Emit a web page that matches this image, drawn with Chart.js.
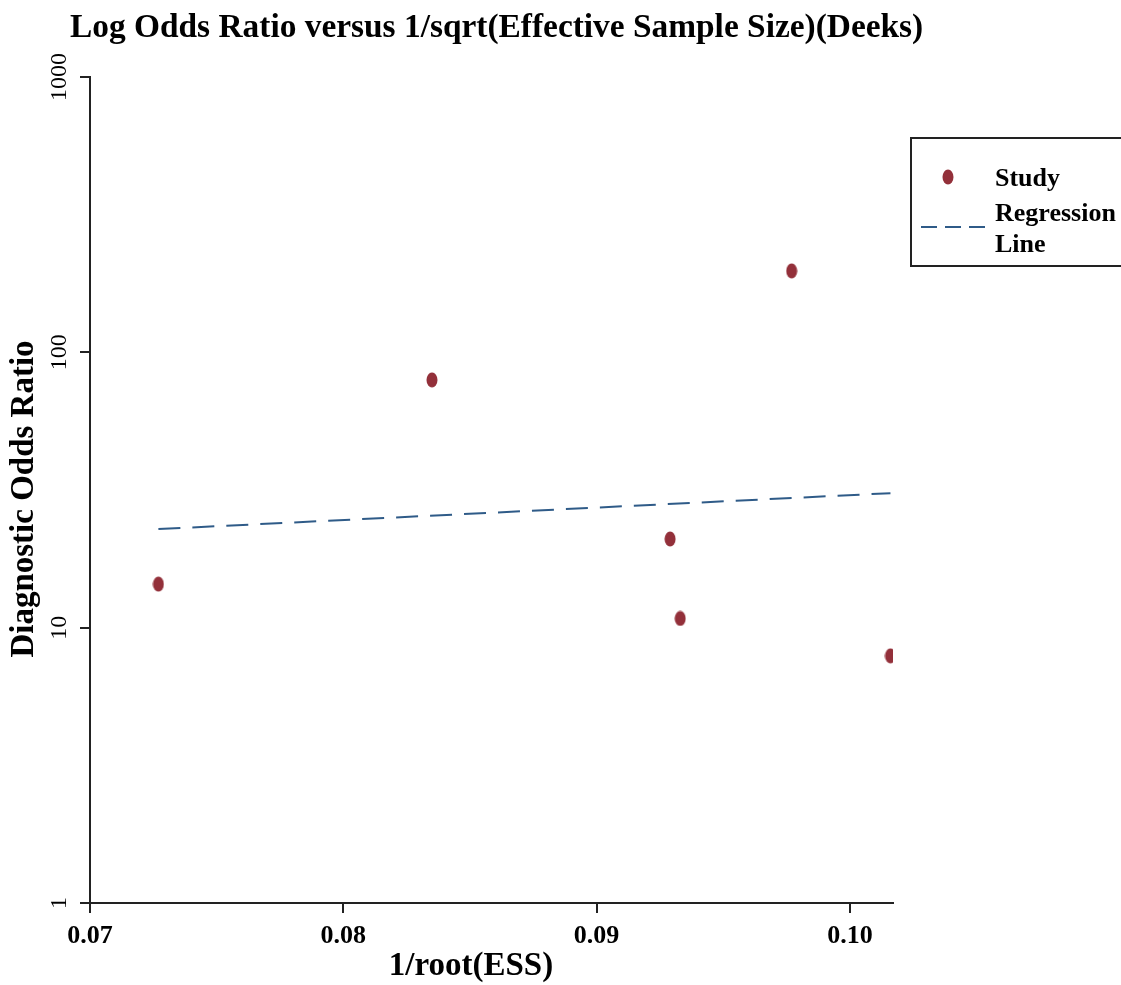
<!DOCTYPE html>
<html>
<head>
<meta charset="utf-8">
<script src="https://cdn.jsdelivr.net/npm/chart.js@4.4.0/dist/chart.umd.min.js"></script>
<style>
  html, body { margin: 0; padding: 0; background: #fff; }
  #wrap { width: 1121px; height: 985px; }
</style>
</head>
<body>
<div id="wrap"><canvas id="myChart" width="1121" height="985"></canvas></div>
<script>
// study points (1/sqrt(ESS), diagnostic odds ratio)
var studyX = [0.0727, 0.0835, 0.0929, 0.0933, 0.0977, 0.1016];
var studyY = [14.4, 79.4, 21.0, 10.8, 197.6, 7.9];
// regression line end points
var regX = [0.0727, 0.1016];
var regY = [22.8, 30.8];
// ticks
var xTicks = [0.07, 0.08, 0.09, 0.10];
var yTicks = [1, 10, 100, 1000];

var serif = '"Liberation Serif", "Times New Roman", serif';
var pointColor = '#93303a';
var lineColor = '#2f5b88';

function toPoints(xs, ys) {
	var out = [];
	xs.forEach(function(v, i) {
		out.push({ x: v, y: ys[i] });
	});
	return out;
}

// tall rounded marker like the original
function makeMarker() {
	var c = document.createElement('canvas');
	c.width = 12;
	c.height = 16;
	var g = c.getContext('2d');
	g.fillStyle = pointColor;
	g.beginPath();
	g.ellipse(6, 8, 5.5, 7.5, 0, 0, Math.PI * 2);
	g.fill();
	return c;
}
var marker = makeMarker();

var extras = {
	id: 'extras',
	afterDraw: function(chart) {
		var ctx = chart.ctx;
		var yScale = chart.scales.y;
		ctx.save();
		ctx.fillStyle = '#000';
		// title
		ctx.font = 'bold 33.4px ' + serif;
		ctx.textBaseline = 'middle';
		ctx.textAlign = 'left';
		ctx.fillText('Log Odds Ratio versus 1/sqrt(Effective Sample Size)(Deeks)', 70, 28);

		// rotated y tick labels
		ctx.font = '24px ' + serif;
		ctx.textAlign = 'center';
		yTicks.forEach(function(v) {
			var py = yScale.getPixelForValue(v);
			ctx.save();
			ctx.translate(60, py);
			ctx.rotate(-Math.PI / 2);
			ctx.fillText(String(v), 0, 0);
			ctx.restore();
		});

		// y axis title
		ctx.font = 'bold 33px ' + serif;
		ctx.save();
		ctx.translate(24, 499);
		ctx.rotate(-Math.PI / 2);
		ctx.fillText('Diagnostic Odds Ratio', 0, 0);
		ctx.restore();

		// x axis title
		ctx.fillText('1/root(ESS)', 471, 966);

		// legend
		ctx.strokeStyle = '#222';
		ctx.lineWidth = 2;
		ctx.strokeRect(911, 138, 230, 128);
		ctx.drawImage(marker, 942, 169);
		ctx.strokeStyle = lineColor;
		ctx.setLineDash([16, 8]);
		ctx.beginPath();
		ctx.moveTo(921, 227);
		ctx.lineTo(985, 227);
		ctx.stroke();
		ctx.setLineDash([]);
		ctx.fillStyle = '#000';
		ctx.font = 'bold 26px ' + serif;
		ctx.textAlign = 'left';
		ctx.fillText('Study', 995, 179);
		ctx.fillText('Regression', 995, 214);
		ctx.fillText('Line', 995, 245);
		ctx.restore();
	}
};

var ctx = document.getElementById('myChart').getContext('2d');
var myChart = new Chart(ctx, {
	type: 'scatter',
	data: {
		datasets: [{
			label: 'Study',
			data: toPoints(studyX, studyY),
			backgroundColor: pointColor,
			borderColor: pointColor,
			pointStyle: marker,
			pointRadius: 7,
			pointHoverRadius: 7
		}, {
			label: 'Regression Line',
			data: toPoints(regX, regY),
			showLine: true,
			borderColor: lineColor,
			borderWidth: 2,
			borderDash: [22, 12],
			pointRadius: 0,
			fill: false
		}]
	},
	options: {
		responsive: false,
		animation: false,
		layout: { padding: { top: 77, right: 228, left: 0, bottom: 0 } },
		plugins: {
			legend: { display: false },
			tooltip: { enabled: false }
		},
		scales: {
			x: {
				type: 'linear',
				min: 0.07,
				max: 0.1017,
				afterBuildTicks: function(scale) {
					scale.ticks = xTicks.map(function(v) { return { value: v }; });
				},
				afterFit: function(scale) { scale.height = 82; },
				border: { display: true, color: '#222', width: 2 },
				grid: { display: true, drawOnChartArea: false, drawTicks: true, tickLength: 10, color: '#222', lineWidth: 2 },
				ticks: {
					color: '#000',
					font: { family: serif, size: 26, weight: 'bold' },
					padding: 8,
					maxRotation: 0,
					callback: function(v) { return Number(v).toFixed(2); }
				}
			},
			y: {
				type: 'logarithmic',
				min: 1,
				max: 1000,
				afterBuildTicks: function(scale) {
					scale.ticks = yTicks.map(function(v) { return { value: v }; });
				},
				afterFit: function(scale) { scale.width = 90; },
				border: { display: true, color: '#222', width: 2 },
				grid: { display: true, drawOnChartArea: false, drawTicks: true, tickLength: 10, color: '#222', lineWidth: 2 },
				ticks: {
					color: 'rgba(0,0,0,0)',
					font: { family: serif, size: 17 },
					callback: function(v) { return String(v); }
				}
			}
		}
	},
	plugins: [extras]
});
</script>
</body>
</html>
